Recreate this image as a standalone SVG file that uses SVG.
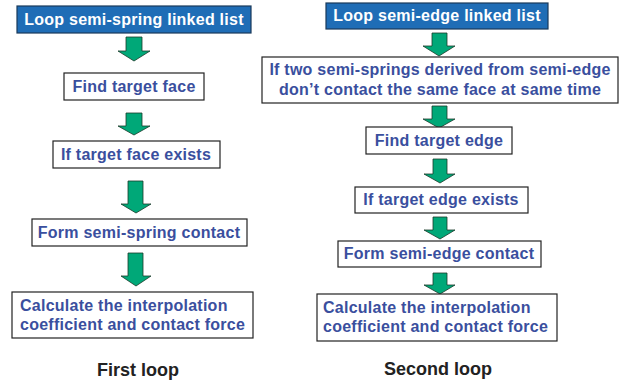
<svg xmlns="http://www.w3.org/2000/svg" width="625" height="384" viewBox="0 0 625 384">
<defs>
<style>
.box{fill:#ffffff;stroke:#222222;stroke-width:1.2}
.hdr{fill:#1f6db6;stroke:#1a3a5a;stroke-width:1.2}
.t{font-family:"Liberation Sans",Arial,sans-serif;font-weight:bold;font-size:16px;letter-spacing:0.25px;fill:#3a4f9e;text-anchor:middle}
.tl{font-family:"Liberation Sans",Arial,sans-serif;font-weight:bold;font-size:16px;letter-spacing:0.25px;fill:#3a4f9e;text-anchor:start}
.tw{font-family:"Liberation Sans",Arial,sans-serif;font-weight:bold;font-size:16px;letter-spacing:0.25px;fill:#ffffff;text-anchor:middle}
.cap{font-family:"Liberation Sans",Arial,sans-serif;font-weight:bold;font-size:18px;fill:#222222;text-anchor:middle}
.arr{fill:#00a878;stroke:#1a3a2a;stroke-width:0.8}
</style>
</defs>
<rect width="625" height="384" fill="#ffffff"/>
<g id="connectors">
<polygon class="arr" points="126,37 142,37 142,51 150,51 134,61 118,51 126,51"/>
<polygon class="arr" points="126,113 142,113 142,126 150,126 134,135 118,126 126,126"/>
<polygon class="arr" points="128,181 143,181 143,204 151,204 136,213 121,204 128,204"/>
<polygon class="arr" points="128,253 143,253 143,276 151,276 136,286 121,276 128,276"/>
<polygon class="arr" points="432,33 447,33 447,46 455,46 439,56 423,46 432,46"/>
<polygon class="arr" points="432,106 447,106 447,119 455,119 439,128 423,119 432,119"/>
<polygon class="arr" points="433,159 447,159 447,174 455,174 440,183 424,174 433,174"/>
<polygon class="arr" points="433,217 447,217 447,230 455,230 440,239 424,230 433,230"/>
<polygon class="arr" points="433,273 447,273 447,285 455,285 440,294 424,285 433,285"/>
</g>
<g id="n1">
<rect class="hdr" x="17" y="6" width="234" height="27"/>
<text class="tw" x="134" y="25">Loop semi-spring linked list</text>
</g>
<g id="n2">
<rect class="box" x="64" y="73" width="140" height="27"/>
<text class="t" x="134" y="92">Find target face</text>
</g>
<g id="n3">
<rect class="box" x="53" y="141" width="167" height="27"/>
<text class="t" x="136" y="160">If target face exists</text>
</g>
<g id="n4">
<rect class="box" x="32" y="219" width="215" height="27"/>
<text class="t" x="139" y="238">Form semi-spring contact</text>
</g>
<g id="n5">
<rect class="box" x="12" y="292" width="241" height="46"/>
<text class="tl" x="20" y="311">Calculate the interpolation</text>
<text class="tl" x="20" y="330">coefficient and contact force</text>
</g>
<g id="m1">
<rect class="hdr" x="326" y="3" width="222" height="26"/>
<text class="tw" x="437" y="21">Loop semi-edge linked list</text>
</g>
<g id="m2">
<rect class="box" x="262" y="57" width="356" height="46"/>
<text class="t" x="440" y="75">If two semi-springs derived from semi-edge</text>
<text class="t" x="440" y="95">don’t contact the same face at same time</text>
</g>
<g id="m3">
<rect class="box" x="366" y="127" width="146" height="27"/>
<text class="t" x="439" y="146">Find target edge</text>
</g>
<g id="m4">
<rect class="box" x="355" y="187" width="173" height="26"/>
<text class="t" x="441" y="205">If target edge exists</text>
</g>
<g id="m5">
<rect class="box" x="338" y="241" width="203" height="26"/>
<text class="t" x="439" y="259">Form semi-edge contact</text>
</g>
<g id="m6">
<rect class="box" x="317" y="294" width="240" height="47"/>
<text class="tl" x="323" y="313">Calculate the interpolation</text>
<text class="tl" x="323" y="332">coefficient and contact force</text>
</g>
<text class="cap" x="138" y="376">First loop</text>
<text class="cap" x="438" y="375">Second loop</text>
</svg>
